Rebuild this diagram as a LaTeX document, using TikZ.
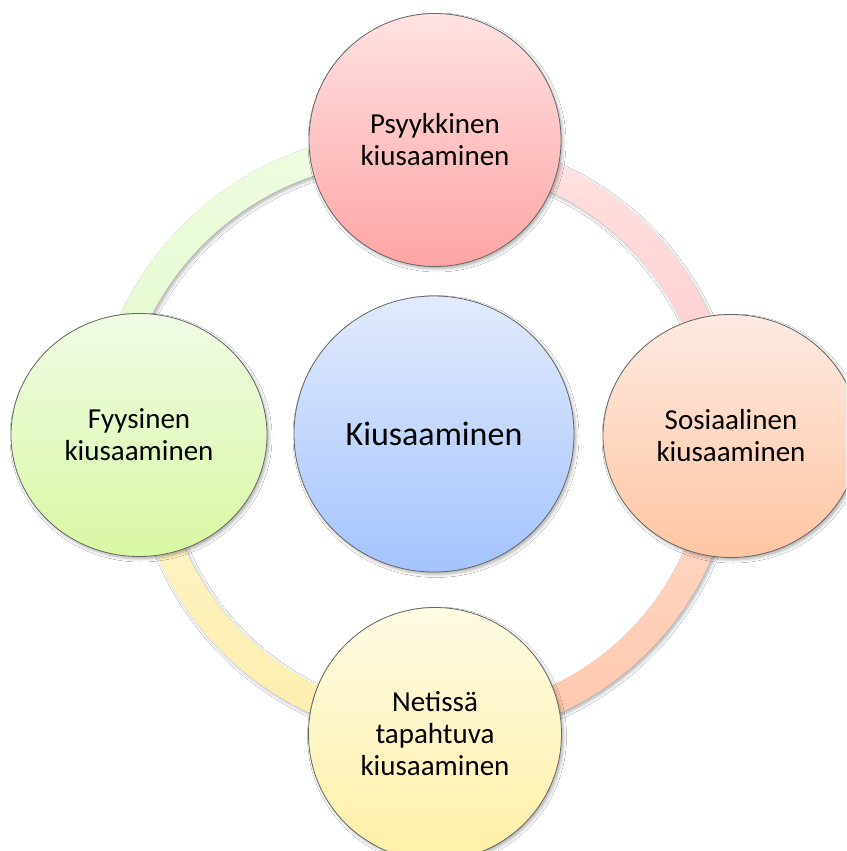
\documentclass[tikz,border=0pt]{standalone}
\usepackage{fontspec}
\setmainfont{Carlito}
\usetikzlibrary{shapes.geometric,shadows.blur,calc}
\definecolor{pinkT}{HTML}{FFE2E2}
\definecolor{pinkB}{HTML}{FFA4A4}
\definecolor{greenT}{HTML}{F1FBE5}
\definecolor{greenB}{HTML}{D8F8A3}
\definecolor{peachT}{HTML}{FDEAE1}
\definecolor{peachB}{HTML}{FFC5A3}
\definecolor{yellowT}{HTML}{FEFBE4}
\definecolor{yellowB}{HTML}{FFF0A6}
\definecolor{blueT}{HTML}{E2EBFD}
\definecolor{blueB}{HTML}{A4C3FD}
\definecolor{arcGT}{HTML}{EFFCE2}
\definecolor{arcGB}{HTML}{DFF8C6}
\definecolor{arcPT}{HTML}{FFE3E3}
\definecolor{arcPB}{HTML}{FFC5C5}
\definecolor{arcOT}{HTML}{FFDED0}
\definecolor{arcOB}{HTML}{FFC6AA}
\definecolor{arcYT}{HTML}{FEF6D2}
\definecolor{arcYB}{HTML}{FDEEAA}
\begin{document}
\begin{tikzpicture}[x=1pt,y=1pt,
  softshadow/.style={blur shadow={shadow xshift=2pt, shadow yshift=-2.5pt, shadow blur radius=3pt, shadow opacity=30}},
  bubble/.style={ellipse, draw=black!60, line width=0.8pt, inner sep=0pt, align=center,
    text=black, font=\fontsize{29}{32}\selectfont, softshadow},
  band/.style={softshadow}]
\fill[white] (0,0) rectangle (846,-851);
\useasboundingbox (0,0) rectangle (846,-851);
\clip (0,0) rectangle (846,-851);
% ring centres
\coordinate (C) at (435,-439);
\coordinate (T) at (404,-445);
% bands
\path[band, top color=arcGT, bottom color=arcGB]
  ($(T)+(80:284)$) arc[start angle=80, end angle=186, radius=284]
  -- ($(T)+(186:312)$) arc[start angle=186, end angle=80, radius=312] -- cycle;
\path[band, top color=arcPT, bottom color=arcPB]
  ($(C)+(95:273)$) arc[start angle=95, end angle=-5, radius=273]
  -- ($(C)+(-5:301)$) arc[start angle=-5, end angle=95, radius=301] -- cycle;
\path[band, top color=arcOT, bottom color=arcOB]
  ($(C)+(5:273)$) arc[start angle=5, end angle=-95, radius=273]
  -- ($(C)+(-95:301)$) arc[start angle=-95, end angle=5, radius=301] -- cycle;
\path[band, top color=arcYT, bottom color=arcYB]
  ($(C)+(-85:273)$) arc[start angle=-85, end angle=-185, radius=273]
  -- ($(C)+(-185:301)$) arc[start angle=-185, end angle=-85, radius=301] -- cycle;
% circles
\node[bubble, minimum width=252, minimum height=253, top color=pinkT, bottom color=pinkB]
  (psy) at (435,-140) {Psyykkinen\\kiusaaminen};
\node[bubble, minimum width=256, minimum height=243, top color=greenT, bottom color=greenB]
  (fyy) at (139,-435) {Fyysinen\\kiusaaminen};
\node[bubble, minimum width=256, minimum height=243, top color=peachT, bottom color=peachB]
  (sos) at (731,-436) {Sosiaalinen\\kiusaaminen};
\node[bubble, minimum width=253, minimum height=253, top color=yellowT, bottom color=yellowB]
  (net) at (435,-734) {Netissä\\tapahtuva\\kiusaaminen};
\node[bubble, minimum width=280, minimum height=276, top color=blueT, bottom color=blueB,
  font=\fontsize{34}{40}\selectfont]
  (kiu) at (434,-434) {Kiusaaminen};
\end{tikzpicture}
\end{document}
